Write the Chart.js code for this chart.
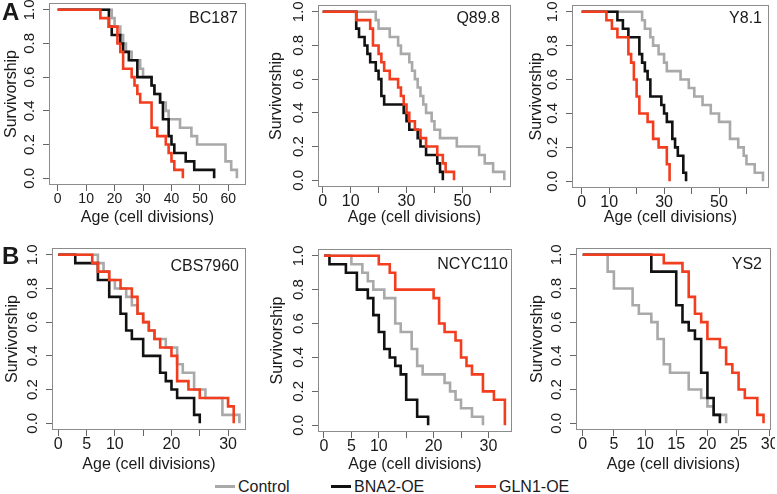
<!DOCTYPE html>
<html>
<head>
<meta charset="utf-8">
<script src="https://cdn.jsdelivr.net/npm/chart.js@4.4.1/dist/chart.umd.min.js"></script>
<style>
html,body{margin:0;padding:0;background:#fff;}
#fig{position:relative;width:777px;height:494px;overflow:hidden;background:#fff;font-family:'Liberation Sans',Arial,Helvetica,sans-serif;color:#1a1a1a;}
#fig canvas{position:absolute;}
.txt{position:absolute;white-space:nowrap;font-size:16px;line-height:16px;}
.big{position:absolute;font-weight:bold;font-size:24px;line-height:24px;}
.leg{position:absolute;height:3px;}
</style>
</head>
<body>
<div id="fig">
  <div class="big" style="left:2px;top:0px;">A</div>
  <div class="big" style="left:2px;top:244px;">B</div>

  <div class="txt" style="right:539px;top:10px;">BC187</div>
  <div class="txt" style="right:277px;top:10px;">Q89.8</div>
  <div class="txt" style="right:15px;top:10px;">Y8.1</div>
  <div class="txt" style="right:538px;top:258px;">CBS7960</div>
  <div class="txt" style="right:269px;top:256px;">NCYC110</div>
  <div class="txt" style="right:15px;top:256px;">YS2</div>

  <div class="leg" style="left:215px;top:485px;width:20px;background:#a9a9a9;"></div>
  <div class="txt" style="left:238px;top:479px;">Control</div>
  <div class="leg" style="left:331px;top:485px;width:20px;background:#111111;"></div>
  <div class="txt" style="left:354px;top:479px;">BNA2-OE</div>
  <div class="leg" style="left:475px;top:485px;width:21px;background:#f23d1f;"></div>
  <div class="txt" style="left:499px;top:479px;">GLN1-OE</div>
</div>
<script>
// ---------- DATA (age in cell divisions, survivorship) ----------
const BC187_control = [[0,1],[19,0.95],[20,0.9],[22,0.85],[23,0.8],[24,0.75],[26,0.7],[29,0.65],[30,0.6],[33,0.55],[34,0.5],[36,0.45],[38,0.4],[39,0.35],[43,0.3],[47,0.25],[49,0.2],[59,0.1],[61,0.05],[63,0]];
const BC187_bna2    = [[0,1],[18,0.9],[19,0.85],[22,0.8],[23,0.75],[25,0.7],[28,0.6],[33,0.55],[34,0.5],[36,0.45],[37,0.35],[39,0.25],[40,0.2],[41,0.15],[45,0.1],[48,0.05],[55,0]];
const BC187_gln1    = [[0,1],[15,0.95],[18,0.9],[21,0.8],[22,0.75],[23,0.65],[26,0.6],[27,0.55],[28,0.5],[29,0.45],[33,0.3],[35,0.25],[38,0.2],[39,0.15],[40,0.1],[41,0.05],[44,0]];

const Q898_control = [[0,1],[19,0.95],[20,0.9],[24,0.85],[27,0.8],[28,0.75],[31,0.7],[32,0.65],[33,0.6],[34,0.55],[35,0.5],[36,0.45],[37,0.4],[39,0.35],[40,0.3],[42,0.25],[48,0.2],[56,0.15],[58,0.1],[61,0.05],[65,0]];
const Q898_bna2    = [[0,1],[12,0.9],[13,0.85],[15,0.8],[16,0.75],[17,0.7],[19,0.65],[20,0.6],[21,0.5],[22,0.45],[29,0.4],[30,0.35],[31,0.3],[34,0.25],[35,0.2],[37,0.15],[41,0.1],[42,0.05],[43,0]];
const Q898_gln1    = [[0,1],[12,0.95],[17,0.9],[18,0.8],[20,0.75],[21,0.7],[22,0.65],[24,0.6],[27,0.55],[28,0.5],[29,0.45],[30,0.4],[31,0.35],[33,0.3],[35,0.25],[37,0.2],[41,0.15],[43,0.1],[44,0.05],[47,0]];

const Y81_control = [[0,1],[22,0.95],[23,0.9],[25,0.85],[26,0.8],[28,0.75],[30,0.7],[31,0.65],[36,0.6],[39,0.55],[41,0.5],[44,0.45],[47,0.4],[50,0.35],[54,0.25],[57,0.2],[59,0.15],[60,0.1],[63,0.05],[66,0]];
const Y81_bna2    = [[0,1],[13,0.95],[15,0.9],[17,0.85],[21,0.75],[22,0.7],[23,0.65],[24,0.6],[25,0.5],[29,0.45],[30,0.4],[31,0.35],[33,0.25],[34,0.2],[35,0.15],[37,0.05],[38,0]];
const Y81_gln1    = [[0,1],[9,0.95],[11,0.9],[13,0.85],[17,0.75],[18,0.7],[19,0.6],[20,0.5],[21,0.4],[24,0.35],[26,0.25],[28,0.2],[31,0.1],[32,0]];

const CBS7960_control = [[0,1],[7,0.95],[8,0.9],[9,0.85],[10,0.8],[12,0.75],[13,0.7],[14,0.65],[15,0.6],[16,0.55],[17,0.5],[19,0.45],[21,0.35],[22,0.3],[24,0.2],[26,0.15],[29,0.05],[32,0]];
const CBS7960_bna2    = [[0,1],[3,0.95],[7,0.85],[9,0.75],[11,0.65],[12,0.55],[13,0.5],[15,0.4],[18,0.3],[19,0.25],[20,0.2],[21,0.15],[24,0.05],[25,0]];
const CBS7960_gln1    = [[0,1],[6,0.95],[7,0.9],[9,0.85],[11,0.8],[13,0.75],[14,0.65],[15,0.6],[16,0.55],[17,0.5],[18,0.45],[20,0.4],[21,0.25],[23,0.2],[25,0.15],[30,0.1],[31,0]];

const NCYC110_control = [[0,1],[5,0.95],[7,0.9],[8,0.85],[9,0.8],[11,0.75],[13,0.6],[14,0.55],[16,0.45],[17,0.35],[18,0.3],[22,0.25],[23,0.2],[24,0.15],[25,0.1],[27,0.05],[29,0]];
const NCYC110_bna2    = [[0,1],[1,0.95],[4,0.9],[6,0.8],[8,0.75],[9,0.65],[10,0.55],[11,0.45],[12,0.4],[13,0.35],[14,0.3],[15,0.15],[17,0.05],[19,0]];
const NCYC110_gln1    = [[0,1],[10,0.95],[12,0.9],[13,0.8],[20,0.75],[21,0.6],[22,0.55],[24,0.5],[25,0.4],[26,0.35],[27,0.3],[29,0.2],[31,0.15],[33,0]];

const YS2_control = [[0,1],[4,0.9],[5,0.8],[8,0.7],[9,0.65],[11,0.6],[12,0.5],[13,0.35],[14,0.3],[17,0.2],[19,0.15],[20,0.1],[21,0.05],[23,0]];
const YS2_bna2    = [[0,1],[11,0.9],[15,0.7],[16,0.6],[17,0.55],[18,0.5],[19,0.3],[20,0.15],[21,0.05],[22,0]];
const YS2_gln1    = [[0,1],[13,0.95],[16,0.9],[17,0.75],[18,0.65],[19,0.6],[20,0.5],[22,0.45],[23,0.35],[24,0.3],[25,0.2],[26,0.15],[28,0.05],[29,0]];

// ---------- TICKS ----------
const yTicks  = [0, 0.2, 0.4, 0.6, 0.8, 1.0];
const yLabels = ['0.0','0.2','0.4','0.6','0.8','1.0'];
const xTicks10 = [0,10,20,30,40,50,60];
const xLabelsAll10 = ['0','10','20','30','40','50','60'];
const xLabelsOdd10 = ['0','10','','30','','50',''];
const xTicks5 = [0,5,10,15,20,25,30];
const xLabelsSparse5 = ['0','5','10','','20','','30'];
const xLabelsAll5 = ['0','5','10','15','20','25','30'];

// ---------- STYLE / LAYOUT ----------
const FONT = "'Liberation Sans', Arial, Helvetica, sans-serif";
const GRAY = '#a9a9a9', BLACK = '#111111', RED = '#f23d1f';
const TXT = '#1a1a1a';

const panels = [
  {series:[BC187_control, BC187_bna2, BC187_gln1], ticks:xTicks10, labels:xLabelsAll10, l:49, t:3, r:246, b:185, xmin:-3.06, xmax:66.2, bottom:226, ytPad:5, tickSize:14},
  {series:[Q898_control, Q898_bna2, Q898_gln1], ticks:xTicks10, labels:xLabelsOdd10, l:318, t:5, r:511, b:187, xmin:-1.68, xmax:67.4, bottom:226, ytPad:1, tickSize:16},
  {series:[Y81_control, Y81_bna2, Y81_gln1], ticks:xTicks10, labels:xLabelsOdd10, l:572, t:5, r:769, b:188, xmin:-3.53, xmax:68.2, bottom:226, ytPad:7, tickSize:16},
  {series:[CBS7960_control, CBS7960_bna2, CBS7960_gln1], ticks:xTicks5, labels:xLabelsSparse5, l:52, t:248, r:246, b:430, xmin:-1.11, xmax:33.17, bottom:473, ytPad:3, tickSize:16},
  {series:[NCYC110_control, NCYC110_bna2, NCYC110_gln1], ticks:xTicks5, labels:xLabelsSparse5, l:318, t:249, r:512, b:432, xmin:-1.09, xmax:34.3, bottom:473, ytPad:2, tickSize:16},
  {series:[YS2_control, YS2_bna2, YS2_gln1], ticks:xTicks5, labels:xLabelsAll5, l:576, t:248, r:771, b:430, xmin:-1.08, xmax:30.2, bottom:473, ytPad:4, tickSize:16}
];

const framePlugin = {
  id:'frame',
  afterDatasetsDraw(chart){
    const {ctx, chartArea:a} = chart;
    ctx.save();
    ctx.strokeStyle = '#8c8c8c';
    ctx.lineWidth = 1;
    ctx.strokeRect(a.left + 0.5, a.top + 0.5, a.right - a.left - 1, a.bottom - a.top - 1);
    ctx.restore();
  }
};

const zeroPad = s => { s.paddingLeft = 0; s.paddingRight = 0; s.paddingTop = 0; s.paddingBottom = 0; };
const toXY = arr => arr.map(([x, y]) => ({x, y}));

const fig = document.getElementById('fig');
panels.forEach(p => {
  const cv = document.createElement('canvas');
  const left = p.l - 50, top = p.t - 4, w = p.r - p.l + 54, h = p.bottom - top;
  cv.style.left = left + 'px'; cv.style.top = top + 'px';
  cv.style.width = w + 'px'; cv.style.height = h + 'px';
  cv.width = w; cv.height = h;
  fig.insertBefore(cv, fig.firstChild);

  const mk = (label, arr, color, order) => ({
    label, data: toXY(arr), borderColor: color, backgroundColor: color, order,
    stepped: true, borderWidth: 2.6, pointRadius: 0, pointHoverRadius: 0,
    fill: false, tension: 0, borderCapStyle: 'butt', borderJoinStyle: 'miter'
  });

  new Chart(cv.getContext('2d'), {
    type: 'line',
    data: { datasets: [
      mk('Control', p.series[0], GRAY, 3),
      mk('BNA2-OE', p.series[1], BLACK, 2),
      mk('GLN1-OE', p.series[2], RED, 1)
    ]},
    options: {
      responsive: false, maintainAspectRatio: false, animation: false, devicePixelRatio: 1,
      events: [],
      layout: { autoPadding: false, padding: { left: 0, top: 4, right: 4, bottom: 0 } },
      plugins: { legend: { display: false }, tooltip: { enabled: false }, title: { display: false } },
      scales: {
        x: {
          type: 'linear', position: 'bottom', min: p.xmin, max: p.xmax, bounds: 'data',
          afterBuildTicks: s => { s.ticks = p.ticks.map(v => ({ value: v })); },
          afterFit: s => { s.height = p.bottom - p.b; zeroPad(s); },
          grid: { display: true, drawOnChartArea: false, drawTicks: true, tickLength: 6, color: '#666', lineWidth: 1 },
          border: { display: false },
          ticks: { autoSkip: false, minRotation: 0, maxRotation: 0, padding: 1, color: TXT,
                   font: { family: FONT, size: p.tickSize, lineHeight: 1 },
                   callback: (v, i) => p.labels[i] },
          title: { display: true, text: 'Age (cell divisions)', color: TXT,
                   font: { family: FONT, size: 16, lineHeight: 1 }, padding: { top: 0, bottom: 0 } }
        },
        y: {
          type: 'linear', position: 'left', min: -0.04, max: 1.04, bounds: 'data',
          afterBuildTicks: s => { s.ticks = yTicks.map(v => ({ value: v })); },
          afterFit: s => { s.width = 50; zeroPad(s); },
          grid: { display: true, drawOnChartArea: false, drawTicks: true, tickLength: 6, color: '#666', lineWidth: 1 },
          border: { display: false },
          ticks: { autoSkip: false, minRotation: 90, maxRotation: 90, crossAlign: 'center', padding: 3, color: TXT,
                   font: { family: FONT, size: 15, lineHeight: 1 },
                   callback: (v, i) => yLabels[i] },
          title: { display: true, text: 'Survivorship', color: TXT,
                   font: { family: FONT, size: 16, lineHeight: 1 }, padding: { top: p.ytPad, bottom: 0 } }
        }
      }
    },
    plugins: [framePlugin]
  });
});
</script>
</body>
</html>
